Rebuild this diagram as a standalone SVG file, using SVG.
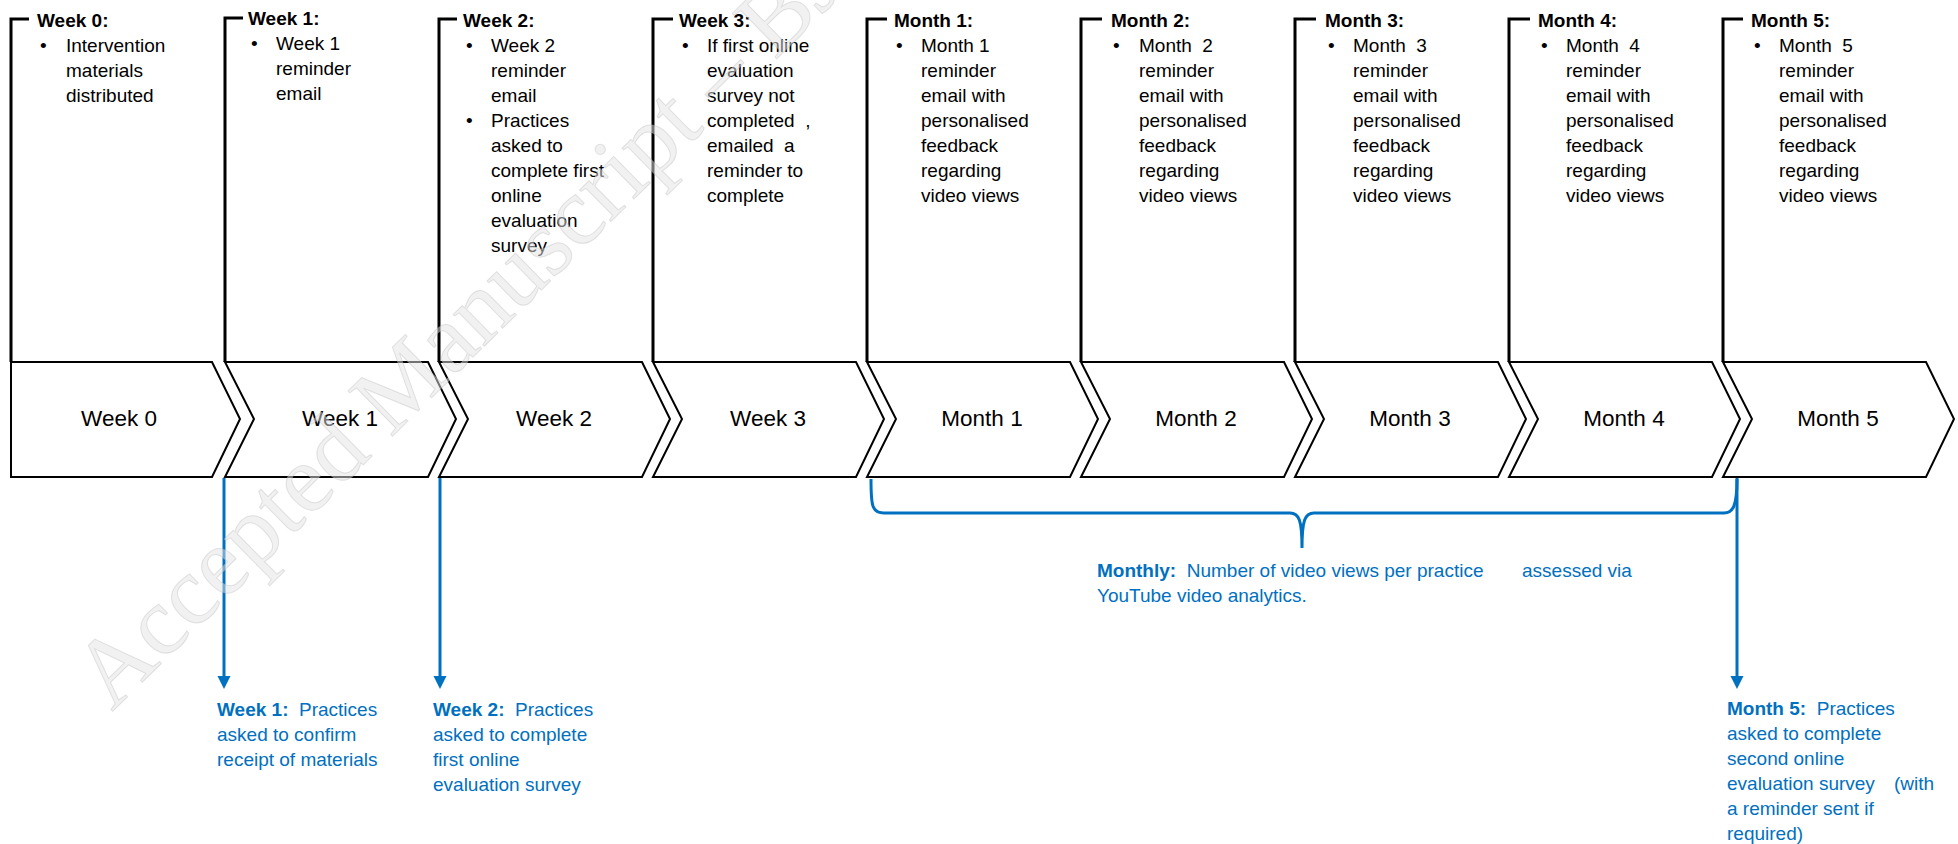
<svg xmlns="http://www.w3.org/2000/svg" width="1958" height="844" viewBox="0 0 1958 844">
<style>
.br{fill:none;stroke:#000;stroke-width:3}
.ch{fill:#fff;stroke:#000;stroke-width:2}
.tt{font-family:"Liberation Sans",Arial,sans-serif;font-size:19px;font-weight:bold;fill:#000}
.bd{font-family:"Liberation Sans",Arial,sans-serif;font-size:19px;fill:#000;white-space:pre}
.cl{font-family:"Liberation Sans",Arial,sans-serif;font-size:22.5px;fill:#000;text-anchor:middle}
.bt{font-family:"Liberation Sans",Arial,sans-serif;font-size:19px;fill:#0070C0;white-space:pre}
.bb{font-weight:bold}
.cn{fill:none;stroke:#0070C0;stroke-width:3}
.wm{font-family:"Liberation Serif","Times New Roman",serif;font-size:97px;fill:#e4e4e4;fill-opacity:0.5;stroke:#b4b4b4;stroke-opacity:0.35;stroke-width:1}
</style>
<defs>
<marker id="ah" markerUnits="userSpaceOnUse" markerWidth="14" markerHeight="14" refX="1" refY="6.5" orient="auto">
<path d="M0,0 L13,6.5 L0,13 Z" fill="#0070C0"/>
</marker>
</defs>

<g id="week0">
<path class="br" d="M29,19 H11 V362"/>
<polygon class="ch" points="11,362 212,362 240,419 212,477 11,477"/>
<text class="cl" x="119" y="426">Week 0</text>
<text class="tt" x="37" y="27">Week 0:</text>
<text class="bd" x="40" y="52">•</text>
<text class="bd" y="52"><tspan x="66">Intervention</tspan><tspan x="66" dy="25">materials</tspan><tspan x="66" dy="25">distributed</tspan></text>
</g>

<g id="week1">
<path class="br" d="M243,18 H225 V362"/>
<polygon class="ch" points="225,362 428,362 456,419 428,477 225,477 254,419"/>
<text class="cl" x="340" y="426">Week 1</text>
<text class="tt" x="248" y="25">Week 1:</text>
<text class="bd" x="251" y="50">•</text>
<text class="bd" y="50"><tspan x="276">Week 1</tspan><tspan x="276" dy="25">reminder</tspan><tspan x="276" dy="25">email</tspan></text>
</g>

<g id="week2">
<path class="br" d="M457,19 H439 V362"/>
<polygon class="ch" points="439,362 642,362 670,419 642,477 439,477 468,419"/>
<text class="cl" x="554" y="426">Week 2</text>
<text class="tt" x="463" y="27">Week 2:</text>
<text class="bd" x="466" y="52">•</text>
<text class="bd" x="466" y="127">•</text>
<text class="bd" y="52"><tspan x="491">Week 2</tspan><tspan x="491" dy="25">reminder</tspan><tspan x="491" dy="25">email</tspan><tspan x="491" dy="25">Practices</tspan><tspan x="491" dy="25">asked to</tspan><tspan x="491" dy="25">complete first</tspan><tspan x="491" dy="25">online</tspan><tspan x="491" dy="25">evaluation</tspan><tspan x="491" dy="25">survey</tspan></text>
</g>

<g id="week3">
<path class="br" d="M673,19 H653 V362"/>
<polygon class="ch" points="653,362 856,362 884,419 856,477 653,477 682,419"/>
<text class="cl" x="768" y="426">Week 3</text>
<text class="tt" x="679" y="27">Week 3:</text>
<text class="bd" x="682" y="52">•</text>
<text class="bd" y="52"><tspan x="707">If first online</tspan><tspan x="707" dy="25">evaluation</tspan><tspan x="707" dy="25">survey not</tspan><tspan x="707" dy="25">completed  ,</tspan><tspan x="707" dy="25">emailed  a</tspan><tspan x="707" dy="25">reminder to</tspan><tspan x="707" dy="25">complete</tspan></text>
</g>

<g id="month1">
<path class="br" d="M887,19 H867 V362"/>
<polygon class="ch" points="867,362 1070,362 1098,419 1070,477 867,477 896,419"/>
<text class="cl" x="982" y="426">Month 1</text>
<text class="tt" x="894" y="27">Month 1:</text>
<text class="bd" x="896" y="52">•</text>
<text class="bd" y="52"><tspan x="921">Month 1</tspan><tspan x="921" dy="25">reminder</tspan><tspan x="921" dy="25">email with</tspan><tspan x="921" dy="25">personalised</tspan><tspan x="921" dy="25">feedback</tspan><tspan x="921" dy="25">regarding</tspan><tspan x="921" dy="25">video views</tspan></text>
</g>

<g id="month2">
<path class="br" d="M1102,19 H1081 V362"/>
<polygon class="ch" points="1081,362 1284,362 1312,419 1284,477 1081,477 1110,419"/>
<text class="cl" x="1196" y="426">Month 2</text>
<text class="tt" x="1111" y="27">Month 2:</text>
<text class="bd" x="1113" y="52">•</text>
<text class="bd" y="52"><tspan x="1139">Month  2</tspan><tspan x="1139" dy="25">reminder</tspan><tspan x="1139" dy="25">email with</tspan><tspan x="1139" dy="25">personalised</tspan><tspan x="1139" dy="25">feedback</tspan><tspan x="1139" dy="25">regarding</tspan><tspan x="1139" dy="25">video views</tspan></text>
</g>

<g id="month3">
<path class="br" d="M1316,19 H1295 V362"/>
<polygon class="ch" points="1295,362 1498,362 1526,419 1498,477 1295,477 1324,419"/>
<text class="cl" x="1410" y="426">Month 3</text>
<text class="tt" x="1325" y="27">Month 3:</text>
<text class="bd" x="1328" y="52">•</text>
<text class="bd" y="52"><tspan x="1353">Month  3</tspan><tspan x="1353" dy="25">reminder</tspan><tspan x="1353" dy="25">email with</tspan><tspan x="1353" dy="25">personalised</tspan><tspan x="1353" dy="25">feedback</tspan><tspan x="1353" dy="25">regarding</tspan><tspan x="1353" dy="25">video views</tspan></text>
</g>

<g id="month4">
<path class="br" d="M1530,19 H1509 V362"/>
<polygon class="ch" points="1509,362 1712,362 1740,419 1712,477 1509,477 1538,419"/>
<text class="cl" x="1624" y="426">Month 4</text>
<text class="tt" x="1538" y="27">Month 4:</text>
<text class="bd" x="1541" y="52">•</text>
<text class="bd" y="52"><tspan x="1566">Month  4</tspan><tspan x="1566" dy="25">reminder</tspan><tspan x="1566" dy="25">email with</tspan><tspan x="1566" dy="25">personalised</tspan><tspan x="1566" dy="25">feedback</tspan><tspan x="1566" dy="25">regarding</tspan><tspan x="1566" dy="25">video views</tspan></text>
</g>

<g id="month5">
<path class="br" d="M1743,19 H1723 V362"/>
<polygon class="ch" points="1723,362 1926,362 1954,419 1926,477 1723,477 1752,419"/>
<text class="cl" x="1838" y="426">Month 5</text>
<text class="tt" x="1751" y="27">Month 5:</text>
<text class="bd" x="1754" y="52">•</text>
<text class="bd" y="52"><tspan x="1779">Month  5</tspan><tspan x="1779" dy="25">reminder</tspan><tspan x="1779" dy="25">email with</tspan><tspan x="1779" dy="25">personalised</tspan><tspan x="1779" dy="25">feedback</tspan><tspan x="1779" dy="25">regarding</tspan><tspan x="1779" dy="25">video views</tspan></text>
</g>

<g id="connectors">
<line class="cn" x1="224" y1="478" x2="224" y2="677" marker-end="url(#ah)"/>
<line class="cn" x1="440" y1="478" x2="440" y2="677" marker-end="url(#ah)"/>
<line class="cn" x1="1737" y1="478" x2="1737" y2="677" marker-end="url(#ah)"/>
<path class="cn" stroke-width="2.6" d="M871,479 C871,506 872,513 884,513 L1290,513 C1299,513 1302,520 1302,548 C1302,520 1305,513 1314,513 L1724,513 C1733,513 1737,506 1737,479"/>
</g>

<g id="label-week1">
<text class="bt" x="217" y="716"><tspan class="bb">Week 1:</tspan>  Practices</text>
<text class="bt" x="217" y="741">asked to confirm</text>
<text class="bt" x="217" y="766">receipt of materials</text>
</g>

<g id="label-week2">
<text class="bt" x="433" y="716"><tspan class="bb">Week 2:</tspan>  Practices</text>
<text class="bt" x="433" y="741">asked to complete</text>
<text class="bt" x="433" y="766">first online</text>
<text class="bt" x="433" y="791">evaluation survey</text>
</g>

<g id="label-monthly">
<text class="bt" x="1097" y="577"><tspan class="bb">Monthly:</tspan>  Number of video views per practice</text>
<text class="bt" x="1522" y="577">assessed via</text>
<text class="bt" x="1097" y="602">YouTube video analytics.</text>
</g>

<g id="label-month5">
<text class="bt" x="1727" y="715"><tspan class="bb">Month 5:</tspan>  Practices</text>
<text class="bt" x="1727" y="740">asked to complete</text>
<text class="bt" x="1727" y="765">second online</text>
<text class="bt" x="1727" y="790">evaluation survey</text>
<text class="bt" x="1894" y="790">(with</text>
<text class="bt" x="1727" y="815">a reminder sent if</text>
<text class="bt" x="1727" y="840">required)</text>
</g>

<g id="watermark">
<text class="wm" transform="translate(112,712) rotate(-44.5)">Accepted Manuscript – BJGP</text>
</g>
</svg>
